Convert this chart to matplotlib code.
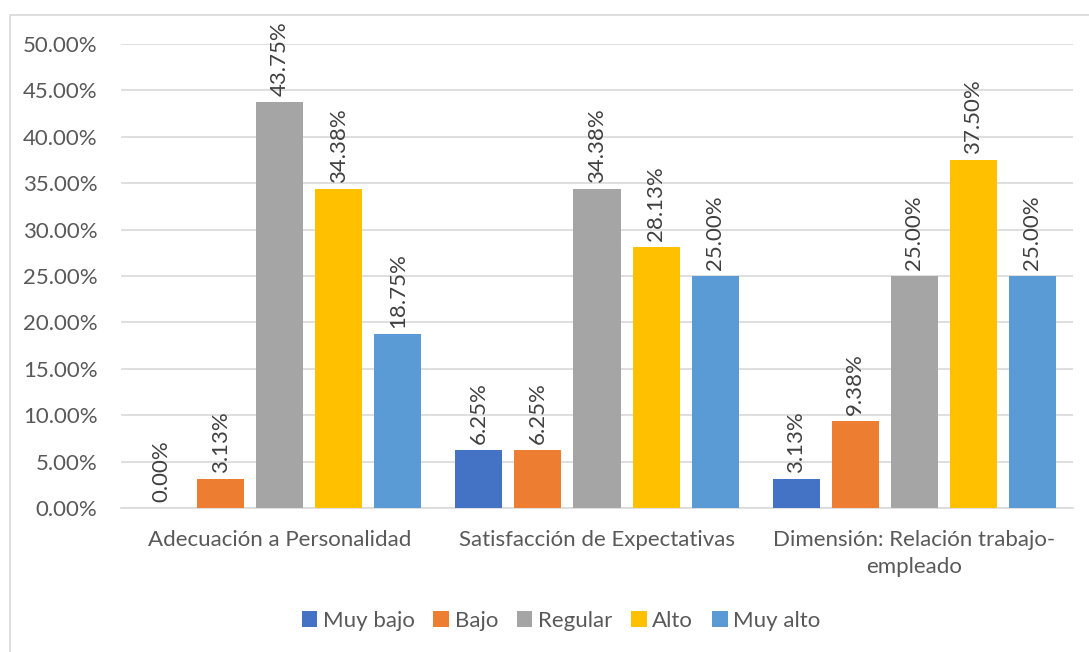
import numpy as np
import matplotlib
matplotlib.use('Agg')
from matplotlib import pyplot as plt
from matplotlib.patches import Rectangle
from matplotlib.ticker import FuncFormatter

plt.rcParams['font.family'] = ['Lato', 'DejaVu Sans']

categories = ['Adecuación a Personalidad', 'Satisfacción de Expectativas',
              'Dimensión: Relación trabajo-\nempleado']
series = ['Muy bajo', 'Bajo', 'Regular', 'Alto', 'Muy alto']
values = {
    'Muy bajo': [0.00, 6.25, 3.13],
    'Bajo':     [3.13, 6.25, 9.38],
    'Regular':  [43.75, 34.38, 25.00],
    'Alto':     [34.38, 28.13, 37.50],
    'Muy alto': [18.75, 25.00, 25.00],
}
colors = ['#4472C4', '#ED7D31', '#A5A5A5', '#FFC000', '#5B9BD5']

text_col = '#595959'
fs = 16
fig = plt.figure(figsize=(10.89, 6.52), dpi=100)
ax = fig.add_axes([121/1089, 1 - 508/652, (1073-121)/1089, (508-44)/652])

# chart border
fig.patches.append(Rectangle((10/1089, -0.05), 1.1, 1 - 15/652 + 0.05,
                             transform=fig.transFigure, fill=False,
                             edgecolor='#D9D9D9', linewidth=1.2))

x = np.arange(len(categories))
step = 59/317
width = 47/317
for i, s in enumerate(series):
    pos = x + (i - 2) * step
    bars = ax.bar(pos, values[s], width, color=colors[i], label=s, zorder=3)
    for b, v in zip(bars, values[s]):
        ax.annotate(f'{v:.2f}%', (b.get_x() + b.get_width()/2, v),
                    xytext=(0, 4), textcoords='offset points',
                    rotation=90, ha='center', va='bottom',
                    fontsize=fs, color='#404040')

ax.set_xlim(-0.5, 2.5)
ax.set_ylim(0, 50)
ax.set_yticks(np.arange(0, 50.1, 5))
ax.yaxis.set_major_formatter(FuncFormatter(lambda v, p: f'{v:.2f}%'))
ax.grid(axis='y', color='#D9D9D9', linewidth=1.2, zorder=0)
ax.set_xticks(x)
ax.set_xticklabels(categories, linespacing=1.45)
ax.tick_params(axis='both', length=0, labelsize=fs, colors=text_col)
ax.tick_params(axis='y', pad=17)
ax.tick_params(axis='x', pad=16)
for sp in ['top', 'right', 'left']:
    ax.spines[sp].set_visible(False)
ax.spines['bottom'].set_color('#D9D9D9')
ax.spines['bottom'].set_linewidth(1.2)

leg = fig.legend(loc='center', bbox_to_anchor=(561/1089, 1 - 621/652), ncol=5,
                 frameon=False, fontsize=fs, handlelength=0.7, handleheight=0.7,
                 handletextpad=0.25, columnspacing=0.85)
for t in leg.get_texts():
    t.set_color(text_col)

fig.savefig('out.png', dpi=100)
